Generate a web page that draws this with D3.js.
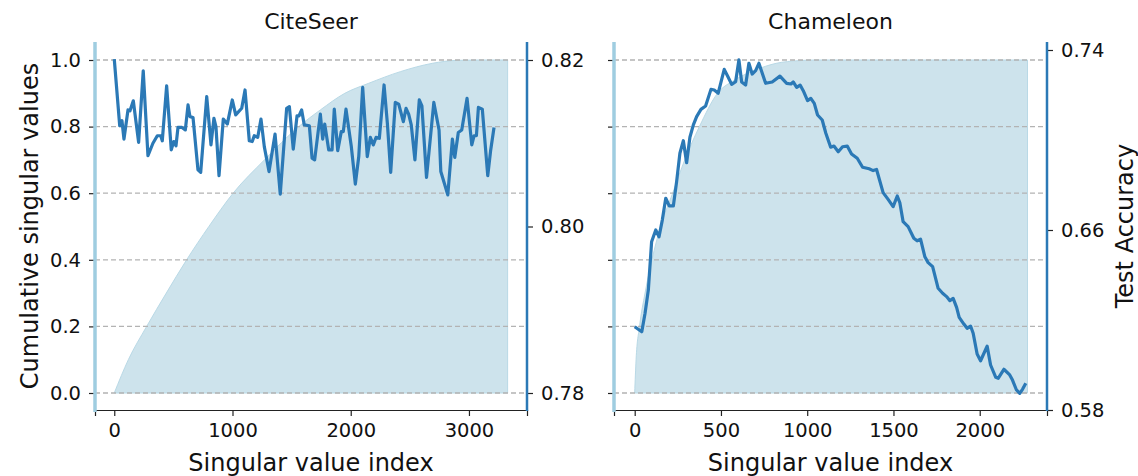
<!DOCTYPE html>
<html>
<head>
<meta charset="utf-8">
<script src="https://cdn.jsdelivr.net/npm/d3@7"></script>
<style>
  body { margin: 0; background: #fff; }
  svg { display: block; font-family: "DejaVu Sans", sans-serif; }
</style>
</head>
<body>
<svg id="chart" width="1138" height="476"></svg>
<script>
// ---- data ----
var citeseerIdx = [0,46,65,82,116,133,161,206,245,285,327,364,393,406,443,482,503,522,539,573,601,624,640,666,708,731,782,818,843,860,886,922,956,998,1027,1078,1106,1142,1167,1184,1213,1241,1269,1309,1360,1404,1458,1481,1514,1546,1563,1585,1607,1650,1673,1695,1743,1763,1780,1814,1842,1861,1890,1920,1937,1960,2005,2039,2068,2101,2140,2166,2191,2214,2242,2282,2310,2338,2377,2406,2445,2468,2490,2512,2543,2580,2602,2641,2703,2747,2762,2821,2860,2880,2910,2939,2984,3024,3043,3063,3080,3113,3159,3184,3212];
var citeseerAcc = [0.8201,0.8121,0.8127,0.8105,0.8140,0.8139,0.8151,0.8101,0.8187,0.8085,0.8100,0.8109,0.8109,0.8103,0.8169,0.8092,0.8102,0.8097,0.8119,0.8119,0.8116,0.8146,0.8132,0.8131,0.8068,0.8065,0.8156,0.8098,0.8130,0.8120,0.8061,0.8129,0.8123,0.8152,0.8134,0.8142,0.8164,0.8103,0.8102,0.8109,0.8107,0.8129,0.8096,0.8066,0.8111,0.8039,0.8142,0.8144,0.8093,0.8133,0.8133,0.8140,0.8122,0.8121,0.8082,0.8080,0.8135,0.8105,0.8123,0.8092,0.8092,0.8141,0.8091,0.8114,0.8114,0.8141,0.8096,0.8051,0.8084,0.8167,0.8084,0.8107,0.8098,0.8107,0.8106,0.8170,0.8124,0.8065,0.8149,0.8147,0.8126,0.8142,0.8135,0.8122,0.8080,0.8152,0.8145,0.8059,0.8149,0.8116,0.8066,0.8038,0.8105,0.8083,0.8113,0.8116,0.8154,0.8098,0.8109,0.8109,0.8143,0.8141,0.8061,0.8092,0.8119];
var citeseerCumIdx = [0,119,274,440,612,800,1005,1270,1560,1743,1950,2152,2420,2690,2900,3100,3327];
var citeseerCum = [0,0.1,0.2,0.3,0.4,0.5,0.6,0.7,0.8,0.85,0.9,0.93,0.965,0.99,0.999,1.0,1.0];

var chameleonIdx = [0,41,60,79,98,122,141,160,180,200,224,243,262,282,301,320,340,359,384,411,442,461,484,519,542,562,585,604,620,643,662,681,701,720,759,797,842,881,906,919,939,959,977,1002,1021,1041,1060,1087,1108,1136,1155,1180,1205,1232,1257,1290,1321,1359,1382,1402,1440,1469,1498,1522,1537,1556,1585,1618,1637,1657,1682,1701,1727,1759,1785,1808,1827,1846,1866,1881,1908,1927,1947,1962,1985,2005,2035,2043,2063,2093,2107,2140,2174,2190,2213,2232,2248,2267];
var chameleonAcc = [0.6170,0.6148,0.6230,0.6333,0.6548,0.6600,0.6570,0.6644,0.6741,0.6707,0.6707,0.6815,0.6941,0.6997,0.6899,0.7012,0.7067,0.7104,0.7136,0.7151,0.7225,0.7222,0.7208,0.7314,0.7279,0.7247,0.7259,0.7356,0.7258,0.7244,0.7341,0.7293,0.7308,0.7341,0.7252,0.7258,0.7284,0.7252,0.7249,0.7258,0.7234,0.7244,0.7219,0.7175,0.7185,0.7163,0.7111,0.7089,0.7030,0.6968,0.6973,0.6948,0.6970,0.6973,0.6938,0.6919,0.6879,0.6872,0.6864,0.6869,0.6766,0.6736,0.6704,0.6751,0.6721,0.6637,0.6615,0.6563,0.6552,0.6559,0.6481,0.6455,0.6437,0.6341,0.6319,0.6304,0.6286,0.6296,0.6256,0.6212,0.6182,0.6163,0.6173,0.6141,0.6049,0.6019,0.6070,0.6084,0.6000,0.5945,0.5941,0.5981,0.5956,0.5933,0.5889,0.5874,0.5892,0.5919];
var chameleonCumIdx = [0,8,28,60,100,150,220,290,375,480,580,700,820,950,1050,2277];
var chameleonCum = [0,0.1,0.2,0.3,0.4,0.5,0.6,0.7,0.8,0.9,0.94,0.97,0.99,0.998,1.0,1.0];

var cumTicks = [0, 0.2, 0.4, 0.6, 0.8, 1.0];
var citeseerXTicks = [0, 1000, 2000, 3000];
var chameleonXTicks = [0, 500, 1000, 1500, 2000];
var citeseerAccTicks = [0.78, 0.80, 0.82];
var chameleonAccTicks = [0.58, 0.66, 0.74];

var LINE_COLOR = "#2b79b6";
var FILL_COLOR = "#cde3ec";
var LEFT_SPINE = "#9fcde0";
var TICK_FONT = 19.5;
var LABEL_FONT = 24;

var svg = d3.select("#chart");

function styleAxis(ax) {
  ax.selectAll(".tick line").attr("stroke", "#222").attr("stroke-width", 1.2);
  ax.selectAll("text").attr("font-size", TICK_FONT).attr("fill", "#111").attr("font-family", "DejaVu Sans");
}

function drawPanel(cfg) {
  var top = 43, bottom = 410;
  var x = d3.scaleLinear().domain(cfg.xDomain).range([cfg.left, cfg.right]);
  var y = d3.scaleLinear().domain([0, 1]).range([393, 60]);
  var y2 = d3.scaleLinear().domain(cfg.accDomain).range(cfg.accRange);
  var g = svg.append("g");

  // shaded cumulative singular values
  var cum = cfg.cumIdx.map(function(d, i){ return [d, cfg.cum[i]]; });
  var area = d3.area()
      .x(function(d){ return x(d[0]); })
      .y0(y(0))
      .y1(function(d){ return y(d[1]); })
      .curve(d3.curveMonotoneX);
  g.append("path")
    .datum(cum)
    .attr("d", area)
    .attr("fill", FILL_COLOR)
    .attr("stroke", "#b9d9e6")
    .attr("stroke-width", 1);

  // dashed grid
  g.selectAll(".grid").data(cumTicks).enter().append("line")
    .attr("x1", cfg.left).attr("x2", cfg.right)
    .attr("y1", function(d){ return y(d); })
    .attr("y2", function(d){ return y(d); })
    .attr("stroke", "#b3b3b3")
    .attr("stroke-width", 1.3)
    .attr("stroke-dasharray", "5,3");

  // accuracy line
  var pts = cfg.idx.map(function(d, i){ return [d, cfg.acc[i]]; });
  g.append("path")
    .datum(pts)
    .attr("d", d3.line().x(function(d){ return x(d[0]); }).y(function(d){ return y2(d[1]); }))
    .attr("fill", "none")
    .attr("stroke", LINE_COLOR)
    .attr("stroke-width", 3.2)
    .attr("stroke-linejoin", "round");

  // x axis
  var xAxis = g.append("g")
    .attr("transform", "translate(0," + bottom + ")")
    .call(d3.axisBottom(x).tickValues(cfg.xTicks).tickSize(6).tickPadding(7).tickFormat(d3.format("d")));
  xAxis.select(".domain").attr("stroke", "#222").attr("stroke-width", 1.2);
  styleAxis(xAxis);

  // left axis
  var yAxis = g.append("g")
    .attr("transform", "translate(" + cfg.left + ",0)")
    .call(d3.axisLeft(y).tickValues(cumTicks).tickSize(6).tickPadding(8)
      .tickFormat(cfg.showLeftLabels ? d3.format(".1f") : ""));
  yAxis.select(".domain").remove();
  styleAxis(yAxis);
  g.append("line")
    .attr("x1", cfg.left).attr("x2", cfg.left)
    .attr("y1", top - 1).attr("y2", bottom + 2)
    .attr("stroke", LEFT_SPINE).attr("stroke-width", 3.5);

  // right (accuracy) axis
  var y2Axis = g.append("g")
    .attr("transform", "translate(" + cfg.right + ",0)")
    .call(d3.axisRight(y2).tickValues(cfg.accTicks).tickSize(6).tickPadding(8).tickFormat(d3.format(".2f")));
  y2Axis.select(".domain").remove();
  styleAxis(y2Axis);
  g.append("line")
    .attr("x1", cfg.right).attr("x2", cfg.right)
    .attr("y1", top - 1).attr("y2", bottom + 1)
    .attr("stroke", LINE_COLOR).attr("stroke-width", 2.5);

  var cx = (cfg.left + cfg.right) / 2;
  g.append("text")
    .attr("x", cx).attr("y", 29)
    .attr("text-anchor", "middle")
    .attr("font-size", 22)
    .attr("fill", "#111")
    .text(cfg.title);
  g.append("text")
    .attr("x", cx).attr("y", 471)
    .attr("text-anchor", "middle")
    .attr("font-size", LABEL_FONT)
    .attr("fill", "#111")
    .text("Singular value index");
}

drawPanel({
  title: "CiteSeer",
  left: 95, right: 527,
  xDomain: [-163, 3491],
  xTicks: citeseerXTicks,
  idx: citeseerIdx, acc: citeseerAcc,
  cumIdx: citeseerCumIdx, cum: citeseerCum,
  accDomain: [0.78, 0.82], accRange: [393, 60],
  accTicks: citeseerAccTicks,
  showLeftLabels: true
});

drawPanel({
  title: "Chameleon",
  left: 614, right: 1047,
  xDomain: [-120, 2390],
  xTicks: chameleonXTicks,
  idx: chameleonIdx, acc: chameleonAcc,
  cumIdx: chameleonCumIdx, cum: chameleonCum,
  accDomain: [0.58, 0.74], accRange: [410, 50],
  accTicks: chameleonAccTicks,
  showLeftLabels: false
});

// axis titles
svg.append("text")
  .attr("transform", "translate(38,226) rotate(-90)")
  .attr("text-anchor", "middle")
  .attr("font-size", LABEL_FONT)
  .attr("fill", "#111")
  .text("Cumulative singular values");
svg.append("text")
  .attr("transform", "translate(1133,226) rotate(-90)")
  .attr("text-anchor", "middle")
  .attr("font-size", LABEL_FONT)
  .attr("fill", "#111")
  .text("Test Accuracy");
</script>
</body>
</html>
